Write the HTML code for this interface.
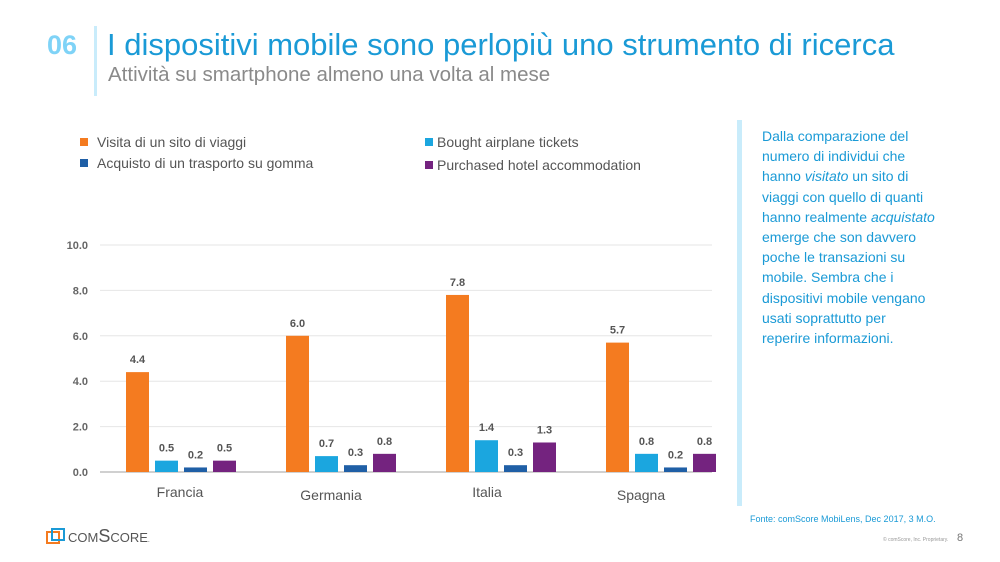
<!DOCTYPE html>
<html><head><meta charset="utf-8"><style>
body{margin:0;width:1000px;height:562px;background:#fff;font-family:"Liberation Sans",sans-serif;position:relative;overflow:hidden}
.a{position:absolute;white-space:nowrap}
</style></head><body>
<div class="a" style="left:47px;top:30px;font-size:27px;font-weight:bold;color:#7fd3f7">06</div>
<div class="a" style="left:94px;top:26px;width:3px;height:70px;background:#c9ecfb"></div>
<div class="a" style="left:107px;top:27px;font-size:31px;color:#1a9ad6">I dispositivi mobile sono perlopiù uno strumento di ricerca</div>
<div class="a" style="left:108px;top:63px;font-size:20.5px;color:#8a8a8a">Attività su smartphone almeno una volta al mese</div>
<div class="a" style="left:737px;top:120px;width:5px;height:386px;background:#c9ecfb"></div>
<div class="a" style="left:762px;top:126px;font-size:14px;line-height:20.2px;color:#1a9ad6">Dalla comparazione del<br>numero di individui che<br>hanno <i>visitato</i> un sito di<br>viaggi con quello di quanti<br>hanno realmente <i>acquistato</i><br>emerge che son davvero<br>poche le transazioni su<br>mobile. Sembra che i<br>dispositivi mobile vengano<br>usati soprattutto per<br>reperire informazioni.</div>
<div class="a" style="left:750px;top:514px;font-size:9px;color:#1a9ad6">Fonte: comScore MobiLens, Dec 2017, 3 M.O.</div>
<div class="a" style="left:883px;top:537px;font-size:5px;color:#999">© comScore, Inc. Proprietary.</div>
<div class="a" style="left:957px;top:532px;font-size:11px;color:#777">8</div>
<div class="a" style="left:45px;top:527px;width:30px;height:20px">
<svg width="30" height="20"><rect x="2" y="5" width="12" height="11" fill="none" stroke="#f47b20" stroke-width="2"/><rect x="7" y="2" width="12" height="11" fill="none" stroke="#1a9ad6" stroke-width="2"/></svg></div>
<div class="a" style="left:68px;top:526px;font-size:18px;color:#555;font-variant:small-caps">comScore<span style="font-size:7px">.</span></div>
<svg class="a" style="left:0;top:0" width="1000" height="562">
<g id="legend"></g><g id="grid"></g><g id="bars"></g><g id="labels"></g>
</svg>
<script>
const categories=["Francia","Germania","Italia","Spagna"];
const seriesNames=["Visita di un sito di viaggi","Bought airplane tickets","Acquisto di un trasporto su gomma","Purchased hotel accommodation"];
const visita=[4.4,6.0,7.8,5.7];
const airplane=[0.5,0.7,1.4,0.8];
const gomma=[0.2,0.3,0.3,0.2];
const hotel=[0.5,0.8,1.3,0.8];
const yTicks=[0,2,4,6,8,10];
const series=[visita,airplane,gomma,hotel];
const colors=["#f47b20","#1ba6df","#1f5fa6","#74237f"];
const NS="http://www.w3.org/2000/svg";
const y=v=>472-v*22.7;
const gx=i=>126+i*160;
function mk(t,a,p){const e=document.createElementNS(NS,t);for(const k in a)e.setAttribute(k,a[k]);p.appendChild(e);return e;}
const grid=document.getElementById('grid'),bars=document.getElementById('bars'),labels=document.getElementById('labels'),legend=document.getElementById('legend');
yTicks.forEach(t=>{
 const l=mk('line',{x1:100,x2:712,y1:y(t),y2:y(t),stroke:t===0?'#d0d0d0':'#e6e6e6','stroke-width':t===0?2:1},grid);
 
 
 const tx=mk('text',{x:88,y:y(t)+4,'text-anchor':'end','font-size':11,fill:'#666','font-weight':'bold'},grid);
 tx.textContent=t.toFixed(1);
 
 
});
const catX=[180,331,487,641],catY=497;
categories.forEach((c,i)=>{
 series.forEach((s,j)=>{
  const x=gx(i)+j*29,v=s[i];
  const r=mk('rect',{x:x,y:y(v),width:23,height:472-y(v),fill:colors[j]},bars);
  
  
  const t=mk('text',{x:x+11.5,y:y(v)-9,'text-anchor':'middle','font-size':11,'font-weight':'bold',fill:'#555'},labels);
  t.textContent=v.toFixed(1);
  
  
 });
 const ct=mk('text',{x:catX[i],y:catY+(i%2)*3,'text-anchor':'middle','font-size':14,fill:'#555'},labels);
 ct.textContent=c;
 
 
});
const lp=[[80,142,97],[425,142,437],[80,163,97],[425,165,437]];
seriesNames.forEach((n,j)=>{
 const p=lp[j];
 const r=mk('rect',{x:p[0],y:p[1]-4,width:8,height:8,fill:colors[j]},legend);
 
 
 const t=mk('text',{x:p[2],y:p[1]+5,'font-size':14,fill:'#555'},legend);
 t.textContent=n;
 
 
});
</script>
</body></html>
